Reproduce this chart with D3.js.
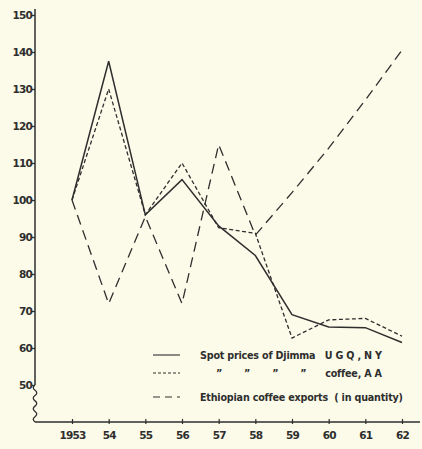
<!DOCTYPE html>
<html><head><meta charset="utf-8">
<script src="https://cdn.jsdelivr.net/npm/d3@7"></script>
<style>body{margin:0;background:#fcfbe9;}svg{display:block;}</style>
</head><body>
<script>
const years = ["1953","54","55","56","57","58","59","60","61","62"];
const spotDjimma = [100,137.5,96,105.5,93,85,69,65.7,65.5,61.5];
const spotCoffeeAA = [100,130,96,110,92.5,91,62.7,67.6,68,63.2];
const exportsQty = [100,72,95.5,72,115,90.5,102,114,127,140.5];
const yTicks = [50,60,70,80,90,100,110,120,130,140,150];
const legendLabels = ["Spot prices of Djimma   U G Q , N Y","\u201D       \u201D       \u201D       \u201D      coffee, A A","Ethiopian coffee exports  ( in quantity)"];

const W=422,H=449;
const svg=d3.select("body").append("svg").attr("width",W).attr("height",H);
const ink="#2e2e2e";
const x=d3.scalePoint().domain(years).range([72,402]);
const y=d3.scaleLinear().domain([50,150]).range([385,15]);
const axisX=35, baseY=422;

// y axis
const ya=svg.append("g").attr("transform",`translate(${axisX},0)`)
 .call(d3.axisLeft(y).tickValues(yTicks).tickSize(3).tickFormat(d3.format("d")));
ya.select(".domain").remove();
ya.selectAll("line").attr("stroke",ink).attr("stroke-width",1.3);
ya.selectAll("text").attr("fill",ink).attr("font-family","DejaVu Sans").attr("font-weight","bold")
 .attr("font-size",10.5).attr("letter-spacing",-0.8).attr("x",-3);
svg.append("line").attr("x1",axisX).attr("x2",axisX).attr("y1",9).attr("y2",y(50))
 .attr("stroke",ink).attr("stroke-width",1.5);
// wavy break
let wp=`M${axisX},${y(50)}`;
const n=7, seg=(baseY-y(50))/n;
for(let i=0;i<n;i++){const y0=y(50)+i*seg;wp+=` Q${axisX+(i%2?3.5:-3.5)},${y0+seg/2} ${axisX},${y0+seg}`;}
svg.append("path").attr("d",wp).attr("fill","none").attr("stroke",ink).attr("stroke-width",1.3);

// x axis
svg.append("line").attr("x1",axisX).attr("x2",420).attr("y1",baseY).attr("y2",baseY)
 .attr("stroke",ink).attr("stroke-width",1.6);
const xa=svg.append("g").attr("transform",`translate(0,${baseY})`)
 .call(d3.axisBottom(x).tickSize(4).tickPadding(6));
xa.select(".domain").remove();
xa.selectAll("line").attr("stroke",ink).attr("stroke-width",1.2).attr("y1",-3).attr("y2",2);
xa.selectAll("text").attr("fill",ink).attr("font-family","DejaVu Sans").attr("font-weight","bold")
 .attr("font-size",10.5).attr("letter-spacing",-0.8);

const line=d3.line().x((d,i)=>x(years[i])).y(d=>y(d));
const series=[
 {v:exportsQty,dash:"10,6",w:1.3},
 {v:spotCoffeeAA,dash:"4,2.5",w:1.3},
 {v:spotDjimma,dash:null,w:1.5}
];
series.forEach(s=>{
 svg.append("path").datum(s.v).attr("d",line).attr("fill","none").attr("stroke",ink)
  .attr("stroke-width",s.w).attr("stroke-dasharray",s.dash).attr("stroke-linejoin","miter");
});

// legend
const lg=[{dash:null,y:355},{dash:"3,2",y:373},{dash:"7,5",y:397}];
lg.forEach((l,i)=>{
 svg.append("line").attr("x1",153).attr("x2",180).attr("y1",l.y).attr("y2",l.y)
  .attr("stroke",ink).attr("stroke-width",1.1).attr("stroke-dasharray",l.dash);
 svg.append("text").attr("x",i===1?216:200).attr("y",l.y+3.5).text(legendLabels[i])
  .attr("fill",ink).attr("font-family","DejaVu Sans").attr("font-size",9.6)
  .attr("letter-spacing",-0.2).attr("font-weight","bold").attr("xml:space","preserve")
  .style("white-space","pre");
});
</script>
</body></html>
